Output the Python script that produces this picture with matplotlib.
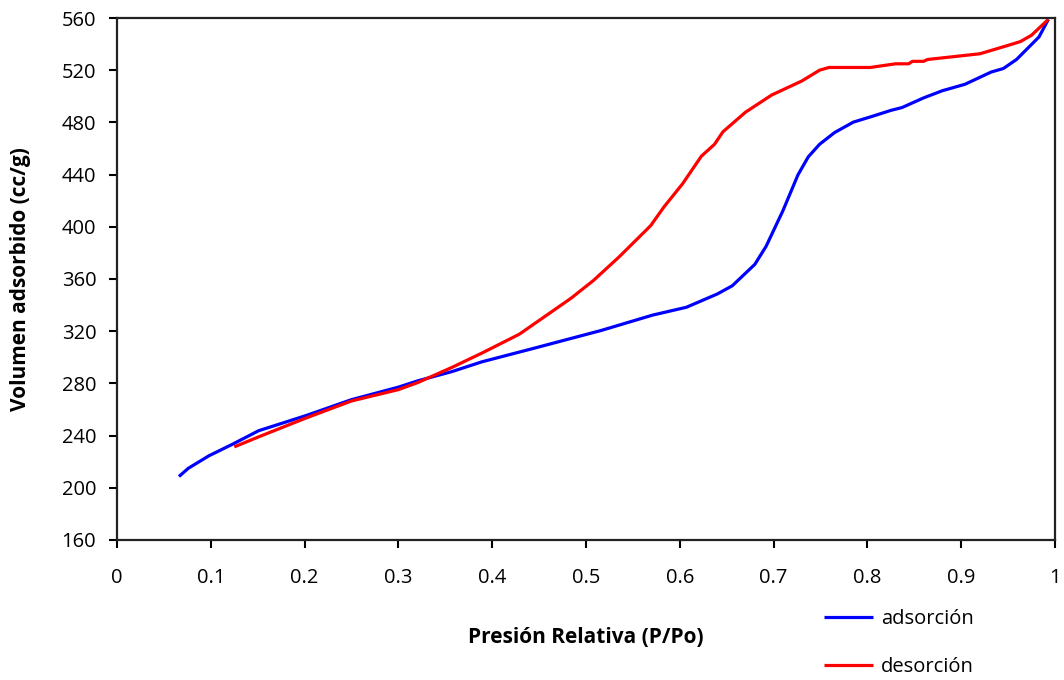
import matplotlib
matplotlib.use("Agg")
import matplotlib.pyplot as plt

plt.rcParams['font.family'] = ['Open Sans', 'DejaVu Sans']

ads_x = [0.066, 0.076, 0.098, 0.123, 0.151, 0.201, 0.250, 0.300, 0.321, 0.357, 0.389,
         0.444, 0.516, 0.571, 0.607, 0.640, 0.656, 0.680, 0.692, 0.710, 0.726, 0.737,
         0.749, 0.765, 0.785, 0.805, 0.825, 0.837, 0.860, 0.880, 0.904, 0.932, 0.945,
         0.959, 0.983, 0.993]
ads_y = [208.6, 214.9, 224.5, 233.3, 243.7, 255.2, 267.5, 277.1, 282.0, 289.0, 296.5,
         306.8, 320.5, 332.3, 338.3, 348.5, 354.8, 371.2, 385.0, 412.4, 439.8, 453.6,
         463.2, 472.2, 480.2, 484.6, 489.2, 491.4, 498.8, 504.3, 509.2, 518.6, 521.3,
         528.2, 545.5, 559.0]

des_x = [0.125, 0.151, 0.201, 0.250, 0.300, 0.321, 0.357, 0.389, 0.429, 0.484, 0.508,
         0.535, 0.569, 0.583, 0.603, 0.623, 0.637, 0.646, 0.670, 0.698, 0.730, 0.749,
         0.759, 0.803, 0.830, 0.844, 0.848, 0.860, 0.864, 0.920, 0.948, 0.963, 0.975,
         0.993]
des_y = [231.3, 239.0, 253.3, 266.5, 275.2, 280.7, 292.2, 303.2, 317.7, 345.2, 358.9,
         376.7, 400.9, 415.1, 433.0, 454.1, 463.2, 472.8, 487.8, 501.0, 511.7, 520.0,
         522.1, 522.1, 524.9, 524.9, 526.8, 526.8, 528.2, 532.6, 538.6, 541.9, 546.8,
         559.0]

x_ticks = [0, 0.1, 0.2, 0.3, 0.4, 0.5, 0.6, 0.7, 0.8, 0.9, 1.0]
x_tick_labels = ['0', '0.1', '0.2', '0.3', '0.4', '0.5', '0.6', '0.7', '0.8', '0.9', '1']
y_ticks = list(range(160, 561, 40))

fig = plt.figure(figsize=(10.64, 6.8), dpi=100)
ax = fig.add_axes([0.110, 0.206, 0.8815, 0.7675])

ax.plot(ads_x, ads_y, color='#0000ff', lw=2.3, label='adsorción', solid_capstyle='butt')
ax.plot(des_x, des_y, color='#ff0000', lw=2.3, label='desorción', solid_capstyle='butt')

ax.set_xlim(0, 1)
ax.set_ylim(160, 560)
ax.set_xticks(x_ticks)
ax.set_xticklabels(x_tick_labels)
ax.set_yticks(y_ticks)
ax.tick_params(axis='both', direction='out', length=6, width=1.5, labelsize=14.5,
               colors='black')
ax.tick_params(axis='x', pad=14)
ax.tick_params(axis='y', pad=9)
for s in ax.spines.values():
    s.set_linewidth(1.6)
    s.set_color('#222222')

fig.text(0.551, 0.063, 'Presión Relativa (P/Po)', ha='center', va='center',
         fontsize=15, fontweight='bold')
fig.text(0.019, 0.59, 'Volumen adsorbido (cc/g)', ha='center', va='center',
         rotation=90, fontsize=15, fontweight='bold')

fig.legend(loc='upper left', bbox_to_anchor=(0.7744, 0.104), frameon=False,
           fontsize=14.5, handlelength=2.45, handletextpad=0.4, labelspacing=1.4,
           borderaxespad=0, borderpad=0)

fig.savefig('out.png', dpi=100)
